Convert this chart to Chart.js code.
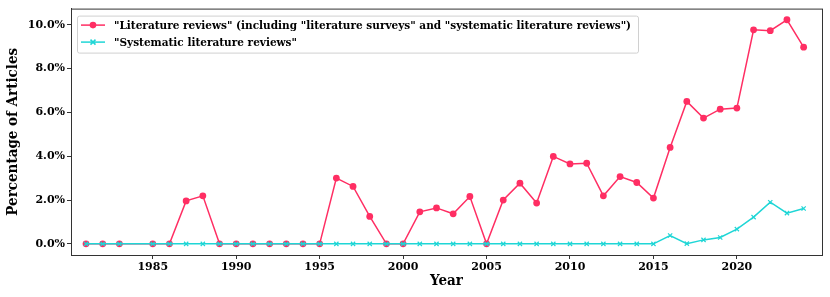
<!DOCTYPE html>
<html>
<head>
<meta charset="utf-8">
<script src="https://cdn.jsdelivr.net/npm/chart.js@4/dist/chart.umd.min.js"></script>
<style>
  html, body { margin: 0; padding: 0; background: #fff; }
  #wrap { width: 830px; height: 297px; }
</style>
</head>
<body>
<div id="wrap"><canvas id="myChart" width="830" height="297"></canvas></div>
<script>
// years (1984 has no entry)
const years = [1981, 1982, 1983, 1985, 1986, 1987, 1988, 1989, 1990, 1991, 1992, 1993, 1994,
  1995, 1996, 1997, 1998, 1999, 2000, 2001, 2002, 2003, 2004, 2005, 2006, 2007, 2008, 2009,
  2010, 2011, 2012, 2013, 2014, 2015, 2016, 2017, 2018, 2019, 2020, 2021, 2022, 2023, 2024];

// percentage of articles
const litReviews = [0, 0, 0, 0, 0, 1.96, 2.19, 0, 0, 0, 0, 0, 0,
  0, 3.0, 2.62, 1.25, 0, 0, 1.46, 1.64, 1.37, 2.16, 0, 2.0, 2.77, 1.86, 3.99,
  3.65, 3.68, 2.19, 3.07, 2.8, 2.09, 4.4, 6.5, 5.74, 6.15, 6.2, 9.77, 9.73, 10.23, 8.98];
const sysReviews = [0, 0, 0, 0, 0, 0, 0, 0, 0, 0, 0, 0, 0,
  0, 0, 0, 0, 0, 0, 0, 0, 0, 0, 0, 0, 0, 0, 0,
  0, 0, 0, 0, 0, 0, 0.38, 0.01, 0.18, 0.29, 0.67, 1.22, 1.9, 1.4, 1.61];

const xTicks = [1985, 1990, 1995, 2000, 2005, 2010, 2015, 2020];
const yTicks = [0, 2, 4, 6, 8, 10];

const labelLit = '"Literature reviews" (including "literature surveys" and "systematic literature reviews")';
const labelSys = '"Systematic literature reviews"';

const red = '#ff2e63';
const cyan = '#1fd6d6';
const tickFont = { family: 'DejaVu Serif', size: 11, weight: 'bold' };
const titleFont = { family: 'DejaVu Serif Condensed, DejaVu Serif', size: 15, weight: 'bold' };

// box around plot + legend inside like matplotlib
const framePlugin = {
  id: 'frame',
  afterDatasetsDraw(chart) {
    const { ctx, chartArea: a } = chart;
    ctx.save();
    ctx.strokeStyle = '#333';
    ctx.lineWidth = 1;
    ctx.strokeRect(a.left + 0.5, a.top + 0.5, a.right - a.left, a.bottom - a.top);

    // legend
    const bx = a.left + 6, by = a.top + 7, bw = 561, bh = 37;
    ctx.fillStyle = 'rgba(255,255,255,0.8)';
    ctx.strokeStyle = '#d0d0d0';
    ctx.beginPath();
    ctx.roundRect(bx + 0.5, by + 0.5, bw, bh, 2);
    ctx.fill();
    ctx.stroke();
    ctx.font = 'bold 10.5px "DejaVu Serif"';
    ctx.textBaseline = 'middle';
    chart.data.datasets.forEach((ds, i) => {
      const y = by + 9.5 + i * 17;
      ctx.strokeStyle = ds.borderColor;
      ctx.lineWidth = 1.5;
      ctx.beginPath();
      ctx.moveTo(bx + 4, y);
      ctx.lineTo(bx + 28, y);
      ctx.stroke();
      if (i === 0) {
        ctx.fillStyle = ds.borderColor;
        ctx.beginPath();
        ctx.arc(bx + 16, y, 3.3, 0, Math.PI * 2);
        ctx.fill();
      } else {
        ctx.beginPath();
        ctx.moveTo(bx + 13.5, y - 2.5); ctx.lineTo(bx + 18.5, y + 2.5);
        ctx.moveTo(bx + 13.5, y + 2.5); ctx.lineTo(bx + 18.5, y - 2.5);
        ctx.stroke();
      }
      ctx.fillStyle = '#000';
      ctx.fillText(ds.label, bx + 37, y + 1);
    });
    ctx.restore();
  }
};

const ctx = document.getElementById('myChart').getContext('2d');
new Chart(ctx, {
  type: 'line',
  data: {
    datasets: [{
      label: labelLit,
      data: years.map((y, i) => ({ x: y, y: litReviews[i] })),
      borderColor: red,
      backgroundColor: red,
      borderWidth: 1.5,
      pointStyle: 'circle',
      pointRadius: 3.4,
      pointBorderWidth: 0,
      tension: 0,
      order: 2
    }, {
      label: labelSys,
      data: years.map((y, i) => ({ x: y, y: sysReviews[i] })),
      borderColor: cyan,
      backgroundColor: cyan,
      borderWidth: 1.5,
      pointStyle: 'crossRot',
      pointRadius: 3,
      pointBorderWidth: 1.2,
      tension: 0,
      order: 1
    }]
  },
  options: {
    responsive: false,
    animation: false,
    layout: { padding: { left: 0, top: 8, right: 8, bottom: 0 } },
    plugins: { legend: { display: false }, tooltip: { enabled: false } },
    scales: {
      x: {
        type: 'linear',
        min: 1980.1,
        max: 2025.1,
        afterBuildTicks: s => { s.ticks = xTicks.map(v => ({ value: v })); },
        afterFit: s => { s.height = 42; },
        grid: { drawOnChartArea: false, tickLength: 4, color: '#333', tickColor: '#333' },
        border: { color: '#333' },
        ticks: { font: tickFont, color: '#000', padding: 2, maxRotation: 0, callback: v => String(v) },
        title: { display: true, text: 'Year', font: titleFont, color: '#000', padding: { top: 0, bottom: 7 } }
      },
      y: {
        min: -0.51,
        max: 10.74,
        afterBuildTicks: s => { s.ticks = yTicks.map(v => ({ value: v })); },
        afterFit: s => { s.width = 71; },
        grid: { drawOnChartArea: false, tickLength: 4, color: '#333', tickColor: '#333' },
        border: { color: '#333' },
        ticks: { font: tickFont, color: '#000', padding: 2, callback: v => v.toFixed(1) + '%' },
        title: { display: true, text: 'Percentage of Articles', font: titleFont, color: '#000', padding: { top: 4, bottom: 0 } }
      }
    }
  },
  plugins: [framePlugin]
});
</script>
</body>
</html>
